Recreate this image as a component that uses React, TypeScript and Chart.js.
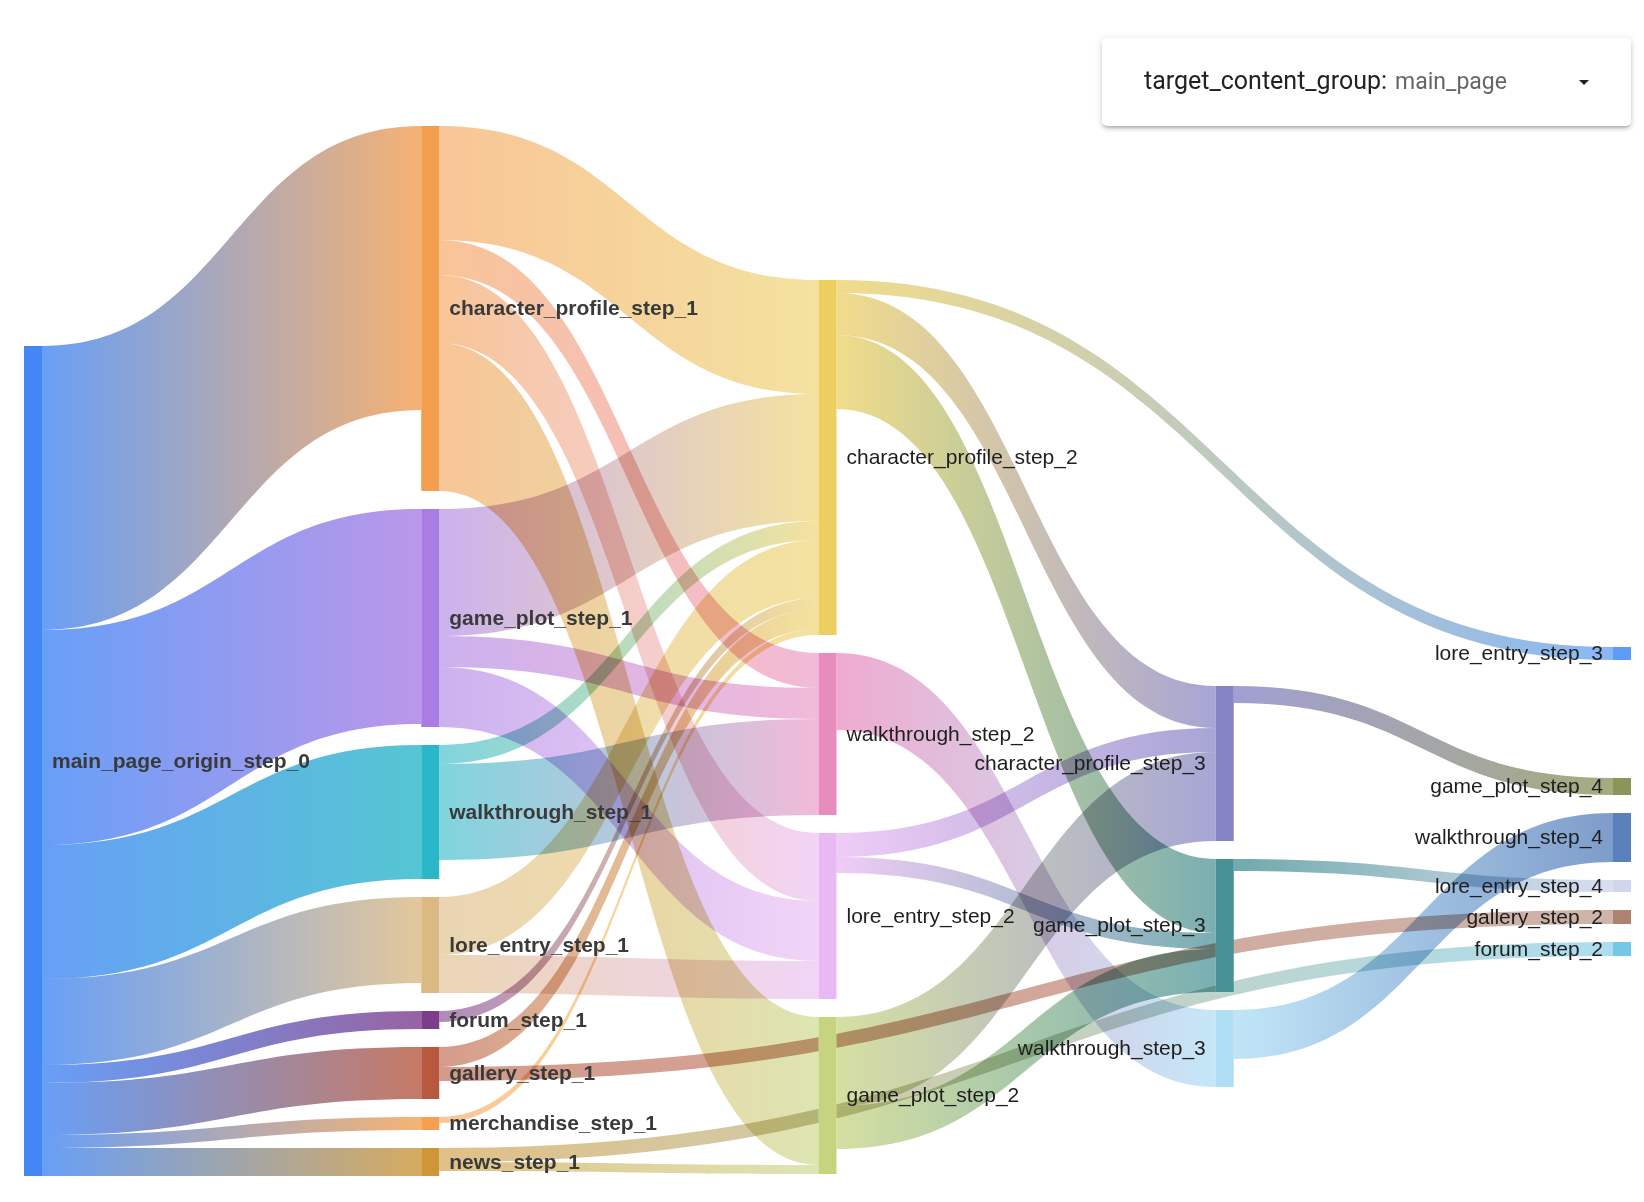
import React, { useEffect, useRef } from "react";
import { Chart, registerables } from "chart.js";

Chart.register(...registerables);

// ---------- data ----------
const NODE_NAMES = [
  "main_page_origin_step_0",
  "character_profile_step_1",
  "game_plot_step_1",
  "walkthrough_step_1",
  "lore_entry_step_1",
  "forum_step_1",
  "gallery_step_1",
  "merchandise_step_1",
  "news_step_1",
  "character_profile_step_2",
  "walkthrough_step_2",
  "lore_entry_step_2",
  "game_plot_step_2",
  "character_profile_step_3",
  "game_plot_step_3",
  "walkthrough_step_3",
  "lore_entry_step_3",
  "game_plot_step_4",
  "walkthrough_step_4",
  "lore_entry_step_4",
  "gallery_step_2",
  "forum_step_2",
];

const NODE_COLORS = [
  "#4287f5",
  "#f49e50",
  "#aa7de4",
  "#2ab8c8",
  "#dcb982",
  "#7d3c8c",
  "#b8583e",
  "#f5a050",
  "#cd9637",
  "#eccf60",
  "#e88cbe",
  "#e8b9f2",
  "#c6d480",
  "#8784c6",
  "#489196",
  "#afdef5",
  "#5d9cf2",
  "#8c945a",
  "#5a80bc",
  "#d0d6ec",
  "#ad8270",
  "#74c8e6",
];

const LINK_SOURCES = [
  "main_page_origin_step_0", "main_page_origin_step_0", "main_page_origin_step_0", "main_page_origin_step_0",
  "main_page_origin_step_0", "main_page_origin_step_0", "main_page_origin_step_0", "main_page_origin_step_0",
  "character_profile_step_1", "character_profile_step_1", "character_profile_step_1", "character_profile_step_1",
  "game_plot_step_1", "game_plot_step_1", "game_plot_step_1",
  "walkthrough_step_1", "walkthrough_step_1",
  "lore_entry_step_1", "lore_entry_step_1",
  "forum_step_1",
  "gallery_step_1", "gallery_step_1",
  "merchandise_step_1",
  "news_step_1", "news_step_1",
  "character_profile_step_2", "character_profile_step_2", "character_profile_step_2",
  "walkthrough_step_2",
  "lore_entry_step_2", "lore_entry_step_2",
  "game_plot_step_2", "game_plot_step_2",
  "character_profile_step_3",
  "game_plot_step_3",
  "walkthrough_step_3",
];

const LINK_TARGETS = [
  "character_profile_step_1", "game_plot_step_1", "walkthrough_step_1", "lore_entry_step_1",
  "forum_step_1", "gallery_step_1", "merchandise_step_1", "news_step_1",
  "character_profile_step_2", "walkthrough_step_2", "lore_entry_step_2", "game_plot_step_2",
  "character_profile_step_2", "walkthrough_step_2", "lore_entry_step_2",
  "character_profile_step_2", "walkthrough_step_2",
  "character_profile_step_2", "lore_entry_step_2",
  "character_profile_step_2",
  "character_profile_step_2", "gallery_step_2",
  "character_profile_step_2",
  "forum_step_2", "game_plot_step_2",
  "lore_entry_step_3", "character_profile_step_3", "game_plot_step_3",
  "walkthrough_step_3",
  "character_profile_step_3", "game_plot_step_3",
  "character_profile_step_3", "game_plot_step_3",
  "game_plot_step_4",
  "lore_entry_step_4",
  "walkthrough_step_4",
];

const LINK_VALUES = [
  284, 215, 134, 86,
  18, 52, 13, 28,
  114, 35, 68, 148,
  127, 31, 60,
  19, 96,
  58, 38,
  11,
  20, 14,
  6,
  14, 9,
  13, 42, 74,
  77,
  24, 16,
  89, 43,
  17,
  12,
  49,
];

const SELECT_LABEL = "target_content_group:";
const SELECT_VALUE = "main_page";

// ---------- layout / style options ----------
// Extra space (in value units) left above a node, on top of the normal node padding.
const NODE_OFFSET_NAMES = [
  "main_page_origin_step_0",
  "character_profile_step_2",
  "character_profile_step_3",
  "lore_entry_step_3",
  "game_plot_step_4",
];
const NODE_OFFSETS = [220, 154, 560, 521, 100];

const NODE_WIDTH = 18;
const NODE_PADDING = 18;
const LINK_ALPHA_BY_LAYER = [0.8, 0.6, 0.73, 0.78, 0.78];
const LABEL_FONT = "'Liberation Sans', Arial, Helvetica, sans-serif";

// ---------- sankey layout (justified columns, input order, stacked with padding) ----------
function computeSankey() {
  const nodes: any[] = NODE_NAMES.map((name, index) => ({
    index, name, color: NODE_COLORS[index], sourceLinks: [], targetLinks: [],
    value: 0, depth: 0, layer: 0, y0: 0, y1: 0,
  }));
  const byName = new Map(nodes.map((n) => [n.name, n]));
  const links: any[] = LINK_SOURCES.map((s, index) => {
    const link: any = {
      index, source: byName.get(s), target: byName.get(LINK_TARGETS[index]),
      value: LINK_VALUES[index], width: 0, sTop: 0, tTop: 0,
    };
    link.source.sourceLinks.push(link);
    link.target.targetLinks.push(link);
    return link;
  });
  const sumL = (arr: any[]) => arr.reduce((a, l) => a + l.value, 0);
  for (const n of nodes) n.value = Math.max(sumL(n.sourceLinks), sumL(n.targetLinks));

  let current = new Set<any>(nodes);
  let depth = 0;
  while (current.size) {
    const next = new Set<any>();
    for (const n of current) {
      n.depth = depth;
      for (const l of n.sourceLinks) next.add(l.target);
    }
    depth++;
    current = next;
  }
  const nCols = Math.max(...nodes.map((n) => n.depth)) + 1;
  const columns: any[][] = Array.from({ length: nCols }, () => []);
  for (const n of nodes) {
    n.layer = n.sourceLinks.length ? n.depth : nCols - 1;
    columns[n.layer].push(n);
  }
  const py = NODE_PADDING;
  const colSum = (c: any[]) => c.reduce((a, n) => a + n.value, 0);
  const yMax = Math.max(...columns.map((c) => colSum(c) + (c.length - 1) * py));

  const offsets = new Map(NODE_OFFSET_NAMES.map((n, i) => [n, NODE_OFFSETS[i]]));
  for (const col of columns) {
    let y = 0;
    col.forEach((n, i) => {
      y += (i > 0 ? py : 0) + (offsets.get(n.name) || 0);
      n.y0 = y;
      n.y1 = y + n.value;
      y = n.y1;
    });
  }
  for (const l of links) l.width = l.value;

  const byTarget = (a: any, b: any) => a.target.y0 - b.target.y0 || a.index - b.index;
  const bySource = (a: any, b: any) => a.source.y0 - b.source.y0 || a.index - b.index;
  for (const n of nodes) {
    n.sourceLinks.sort(byTarget);
    n.targetLinks.sort(bySource);
    let a = n.y0;
    let b = n.y0;
    for (const l of n.sourceLinks) { l.sTop = a; a += l.width; }
    for (const l of n.targetLinks) { l.tTop = b; b += l.width; }
  }
  return { nodes, links, yMax, nCols };
}

export default function App() {
  const canvasRef = useRef<HTMLCanvasElement | null>(null);

  useEffect(() => {
    const canvas = canvasRef.current;
    if (!canvas) return;
    const graph = computeSankey();

    const sankeyPlugin = {
      id: "sankeyDraw",
      beforeDraw(chart: any) {
        const ctx = chart.ctx;
        ctx.save();
        ctx.fillStyle = "#ffffff";
        ctx.fillRect(0, 0, chart.width, chart.height);
        ctx.restore();
      },
      afterDatasetsDraw(chart: any) {
        const ctx: CanvasRenderingContext2D = chart.ctx;
        const xs = chart.scales.x;
        const ys = chart.scales.y;
        const px = (layer: number) => xs.getPixelForValue(layer);
        const py = (v: number) => ys.getPixelForValue(v);

        // links: filled ribbons between two horizontal bezier curves
        ctx.save();
        ctx.globalCompositeOperation = "multiply";
        for (const l of graph.links) {
          const sx = px(l.source.layer) + NODE_WIDTH;
          const tx = px(l.target.layer);
          const sTop = py(l.sTop);
          const sBot = py(l.sTop + l.width);
          const tTop = py(l.tTop);
          const tBot = py(l.tTop + l.width);
          const grad = ctx.createLinearGradient(sx, 0, tx, 0);
          grad.addColorStop(0, l.source.color);
          grad.addColorStop(1, l.target.color);
          ctx.globalAlpha = LINK_ALPHA_BY_LAYER[l.source.layer];
          ctx.fillStyle = grad;
          const mx = (sx + tx) / 2;
          ctx.beginPath();
          ctx.moveTo(sx, sTop);
          ctx.bezierCurveTo(mx, sTop, mx, tTop, tx, tTop);
          ctx.lineTo(tx, tBot);
          ctx.bezierCurveTo(mx, tBot, mx, sBot, sx, sBot);
          ctx.closePath();
          ctx.fill();
        }
        ctx.restore();

        // nodes
        ctx.save();
        for (const n of graph.nodes) {
          const x = px(n.layer);
          const top = py(n.y0);
          const bot = py(n.y1);
          ctx.fillStyle = n.color;
          ctx.fillRect(x, top, NODE_WIDTH, bot - top);
        }
        ctx.restore();

        // labels
        ctx.save();
        const mid = chart.width / 2;
        ctx.textBaseline = "middle";
        for (const n of graph.nodes) {
          const x = px(n.layer);
          const cy = (py(n.y0) + py(n.y1)) / 2;
          const bold = n.layer <= 1;
          ctx.font = (bold ? "bold " : "") + "21px " + LABEL_FONT;
          ctx.fillStyle = bold ? "#3a3a3a" : "#1e1e1e";
          if (x < mid) {
            ctx.textAlign = "left";
            ctx.fillText(n.name, x + NODE_WIDTH + 10, cy + 1);
          } else {
            ctx.textAlign = "right";
            ctx.fillText(n.name, x - 10, cy + 1);
          }
        }
        ctx.restore();
      },
    };

    const chart = new Chart(canvas, {
      type: "scatter",
      data: { datasets: [{ data: [] }] },
      options: {
        responsive: false,
        animation: false,
        events: [],
        layout: { padding: { left: 24, right: 31, top: 126, bottom: 26 } },
        scales: {
          x: { type: "linear", min: 0, max: graph.nCols - 1, display: false },
          y: { type: "linear", min: 0, max: graph.yMax, reverse: true, display: false },
        },
        plugins: { legend: { display: false }, tooltip: { enabled: false } },
      },
      plugins: [sankeyPlugin],
    } as any);

    return () => chart.destroy();
  }, []);

  return (
    <div style={{ position: "fixed", left: 0, top: 0, width: 1644, height: 1202, background: "#fff", overflow: "hidden" }}>
      <canvas ref={canvasRef} width={1644} height={1202} style={{ position: "absolute", left: 0, top: 0, width: 1644, height: 1202 }} />
      <div
        style={{
          position: "absolute", left: 1102, top: 38, width: 529, height: 88, background: "#fff",
          borderRadius: 5, boxSizing: "border-box",
          boxShadow: "0px 3px 3px -2px rgba(0,0,0,0.2), 0px 3px 4px 0px rgba(0,0,0,0.14), 0px 1px 8px 0px rgba(0,0,0,0.12)",
          fontFamily: "Roboto, Arial, sans-serif",
        }}
      >
        <div style={{ position: "absolute", left: 42, top: "50%", transform: "translateY(-50%)", whiteSpace: "nowrap", lineHeight: "30px" }}>
          <span style={{ fontSize: 25, color: "#222" }}>{SELECT_LABEL}</span>
          <span style={{ fontSize: 23, color: "#666", marginLeft: 8 }}>{SELECT_VALUE}</span>
        </div>
        <div
          style={{
            position: "absolute", left: 477, top: 42, width: 0, height: 0,
            borderLeft: "5px solid transparent", borderRight: "5px solid transparent", borderTop: "5px solid #222",
          }}
        />
      </div>
    </div>
  );
}
